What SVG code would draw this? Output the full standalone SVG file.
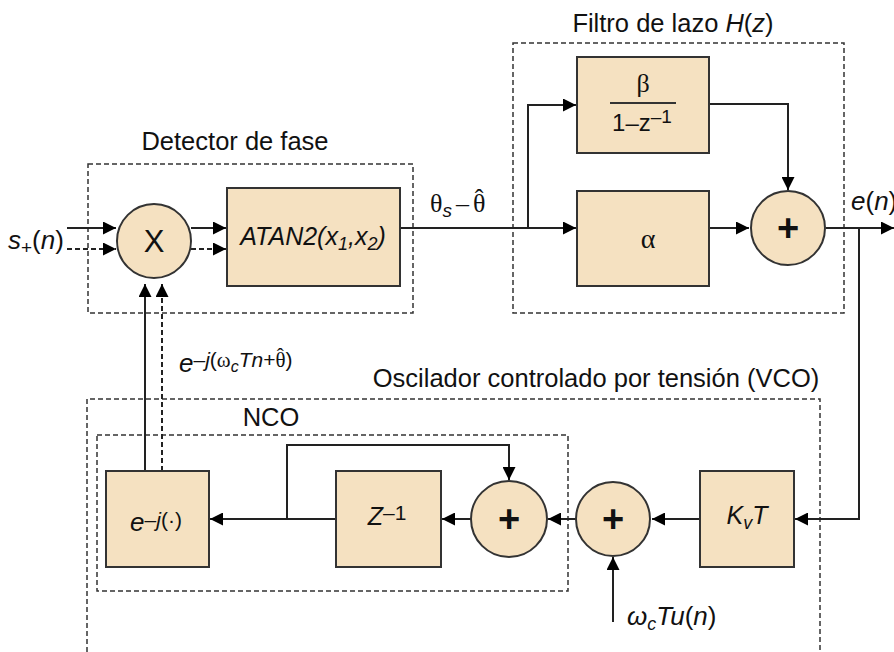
<svg xmlns="http://www.w3.org/2000/svg" width="894" height="652" viewBox="0 0 894 652">
<defs>
<marker id="ahb" viewBox="0 0 12 12" refX="12" refY="6" markerWidth="13" markerHeight="13" markerUnits="userSpaceOnUse" orient="auto"><path d="M0,0 L12,6 L0,12 z" fill="#000"/></marker>
</defs>
<style>
.blk{fill:#f5e1c1;stroke:#333;stroke-width:2}
.grp{fill:none;stroke:#333;stroke-width:1.5;stroke-dasharray:5,3}
.w{fill:none;stroke:#222;stroke-width:2}
.wd{fill:none;stroke:#222;stroke-width:2;stroke-dasharray:5,3}
.t{font-family:"Liberation Sans",Arial,sans-serif;fill:#111}
.g{font-family:"Liberation Serif","Times New Roman",serif;fill:#111;font-style:normal}
.i{font-style:italic}
.ttl{font-size:25.5px}
.pl{font-size:38px;font-weight:bold}
</style>
<rect width="894" height="652" fill="#fff"/>

<g id="detector">
<rect class="grp" x="88" y="164" width="325" height="149"/>
<text class="t ttl" x="235" y="150" text-anchor="middle">Detector de fase</text>
</g>
<g id="filtro">
<rect class="grp" x="513" y="43" width="331" height="270"/>
<text class="t ttl" x="673" y="32" text-anchor="middle">Filtro de lazo <tspan class="i">H</tspan>(<tspan class="i">z</tspan>)</text>
</g>
<g id="vco">
<path class="grp" d="M87,660 L87,399 L820,399 L820,660"/>
<text class="t ttl" x="596" y="387" text-anchor="middle">Oscilador controlado por tensión (VCO)</text>
</g>
<g id="nco">
<rect class="grp" x="97" y="435" width="471" height="156"/>
<text class="t ttl" x="271" y="426" text-anchor="middle">NCO</text>
</g>

<g id="connectors">
<line class="w" x1="67" y1="228" x2="116" y2="228" marker-end="url(#ahb)"/>
<line class="wd" x1="67" y1="249" x2="116" y2="249" marker-end="url(#ahb)"/>
<line class="w" x1="191" y1="228" x2="226" y2="228" marker-end="url(#ahb)"/>
<line class="wd" x1="191" y1="249" x2="226" y2="249" marker-end="url(#ahb)"/>
<line class="w" x1="145" y1="471" x2="145" y2="284" marker-end="url(#ahb)"/>
<line class="wd" x1="162" y1="471" x2="162" y2="284" marker-end="url(#ahb)"/>
<line class="w" x1="400" y1="228" x2="576" y2="228" marker-end="url(#ahb)"/>
<polyline class="w" points="528,228 528,105 576,105" marker-end="url(#ahb)"/>
<polyline class="w" points="709,104 788,104 788,190" marker-end="url(#ahb)"/>
<line class="w" x1="709" y1="228" x2="749" y2="228" marker-end="url(#ahb)"/>
<line class="w" x1="826" y1="228" x2="894" y2="228" marker-end="url(#ahb)"/>
<polyline class="w" points="859,228 859,519 795,519" marker-end="url(#ahb)"/>
<line class="w" x1="700" y1="519" x2="652" y2="519" marker-end="url(#ahb)"/>
<line class="w" x1="576" y1="519" x2="548" y2="519" marker-end="url(#ahb)"/>
<line class="w" x1="471" y1="519" x2="442" y2="519" marker-end="url(#ahb)"/>
<line class="w" x1="336" y1="519" x2="210" y2="519" marker-end="url(#ahb)"/>
<polyline class="w" points="287,519 287,445 509,445 509,480" marker-end="url(#ahb)"/>
<line class="w" x1="613" y1="622" x2="613" y2="557" marker-end="url(#ahb)"/>
</g>

<g id="mult">
<circle class="blk" cx="154" cy="241" r="37"/>
<text class="t" x="154" y="252" font-size="31" text-anchor="middle">X</text>
</g>
<g id="atan2">
<rect class="blk" x="227" y="188" width="173" height="98"/>
<text class="t i" x="313" y="245" font-size="25" text-anchor="middle">ATAN2(x<tspan font-size="18" dy="5">1</tspan><tspan dy="-5">,x</tspan><tspan font-size="18" dy="5">2</tspan><tspan dy="-5">)</tspan></text>
</g>
<g id="beta">
<rect class="blk" x="577" y="57" width="132" height="96"/>
<text class="g" x="643" y="92" font-size="26" text-anchor="middle">β</text>
<line x1="610" y1="103" x2="676" y2="103" stroke="#333" stroke-width="2"/>
<text class="t" x="642" y="131" font-size="24" text-anchor="middle">1–z<tspan font-size="19" dy="-8">–1</tspan></text>
</g>
<g id="alpha">
<rect class="blk" x="577" y="191" width="132" height="95"/>
<text class="g" x="648" y="248" font-size="28" text-anchor="middle">α</text>
</g>
<g id="sum1">
<circle class="blk" cx="788" cy="228" r="37"/>
<text class="t pl" x="788" y="241" text-anchor="middle">+</text>
</g>
<g id="ejbox">
<rect class="blk" x="106" y="471" width="103" height="96"/>
<text class="t" x="156" y="531" font-size="26" text-anchor="middle"><tspan class="i">e</tspan><tspan dy="-4" font-size="21">–<tspan class="i">j</tspan>(·)</tspan></text>
</g>
<g id="zdelay">
<rect class="blk" x="336" y="471" width="105" height="96"/>
<text class="t" x="387" y="525" font-size="25" text-anchor="middle"><tspan class="i">Z</tspan><tspan dy="-5" font-size="21">–1</tspan></text>
</g>
<g id="sum2">
<circle class="blk" cx="509" cy="519" r="38"/>
<text class="t pl" x="509" y="532" text-anchor="middle">+</text>
</g>
<g id="sum3">
<circle class="blk" cx="613" cy="519" r="37"/>
<text class="t pl" x="613" y="532" text-anchor="middle">+</text>
</g>
<g id="kvt">
<rect class="blk" x="700" y="471" width="94" height="96"/>
<text class="t i" x="747" y="524" font-size="25" text-anchor="middle">K<tspan font-size="18" dy="5">v</tspan><tspan dy="-5">T</tspan></text>
</g>

<g id="labels">
<text class="t" x="8" y="249" font-size="26"><tspan class="i">s</tspan><tspan font-size="19" dy="5">+</tspan><tspan dy="-5">(</tspan><tspan class="i">n</tspan>)</text>
<text class="g" x="430" y="212" font-size="26">θ<tspan class="t i" font-size="19" dy="5">s</tspan><tspan dy="-5" dx="4">–</tspan><tspan dx="4">θ</tspan><tspan dx="-10.8" dy="-5">ˆ</tspan></text>
<text class="t" x="851" y="210" font-size="26"><tspan class="i">e</tspan>(<tspan class="i">n</tspan>)</text>
<text class="t" x="179" y="372" font-size="26"><tspan class="i">e</tspan><tspan font-size="21" dy="-5">–<tspan class="i">j</tspan>(<tspan class="g">ω</tspan><tspan class="i" font-size="16" dy="5">c</tspan><tspan class="i" dy="-5">Tn</tspan>+<tspan class="g">θ</tspan><tspan class="g" dx="-8.75" dy="-4">ˆ</tspan><tspan dx="1.75" dy="4">)</tspan></tspan></text>
<text class="t" x="627" y="625" font-size="26"><tspan class="i">ω</tspan><tspan class="i" font-size="18" dy="5">c</tspan><tspan class="i" dy="-5">Tu</tspan>(<tspan class="i">n</tspan>)</text>
</g>
</svg>
